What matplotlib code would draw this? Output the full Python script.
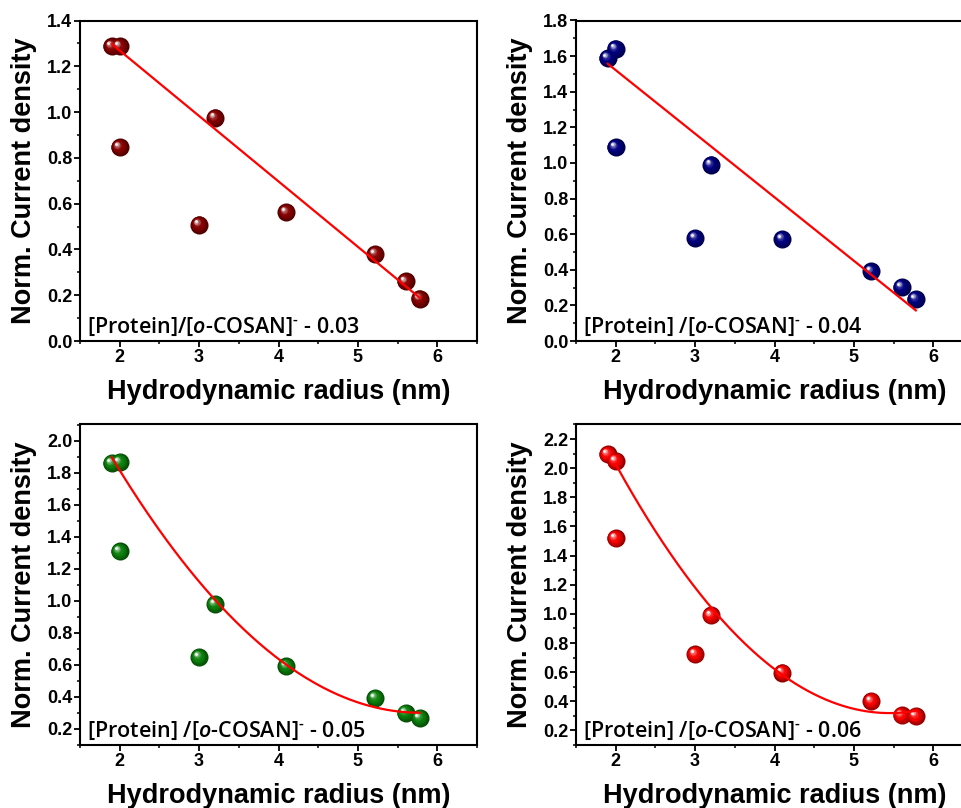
import numpy as np
import matplotlib
matplotlib.use('Agg')
import matplotlib.pyplot as plt
import matplotlib.colors as mcolors
from matplotlib.transforms import offset_copy
from matplotlib.ticker import MultipleLocator, FormatStrFormatter

plt.rcParams['font.family'] = ['Liberation Sans', 'DejaVu Sans']
plt.rcParams['mathtext.fontset'] = 'custom'
plt.rcParams['mathtext.rm'] = 'Open Sans:semibold'
plt.rcParams['mathtext.it'] = 'Open Sans:italic:semibold'

# hydrodynamic radius (nm), same for all panels
radius = [1.9, 2.0, 2.0, 3.0, 3.2, 4.1, 5.22, 5.6, 5.78]

current_003 = [1.287, 1.287, 0.847, 0.508, 0.975, 0.563, 0.380, 0.260, 0.185]
current_004 = [1.589, 1.641, 1.087, 0.578, 0.990, 0.573, 0.391, 0.303, 0.236]
current_005 = [1.859, 1.865, 1.308, 0.649, 0.979, 0.591, 0.393, 0.300, 0.269]
current_006 = [2.095, 2.049, 1.518, 0.722, 0.989, 0.596, 0.401, 0.303, 0.299]

# points used in the fit (outliers left out)
fit_003 = [1, 1, 0, 0, 1, 1, 1, 1, 1]
fit_004 = [1, 1, 0, 0, 1, 1, 1, 1, 1]
fit_005 = [1, 1, 0, 0, 1, 1, 1, 1, 1]
fit_006 = [0, 1, 0, 0, 1, 1, 1, 1, 1]

labels = [r'[Protein]/[$\mathit{o}$-COSAN]$^{\text{-}}$ - 0.03',
          r'[Protein] /[$\mathit{o}$-COSAN]$^{\text{-}}$ - 0.04',
          r'[Protein] /[$\mathit{o}$-COSAN]$^{\text{-}}$ - 0.05',
          r'[Protein] /[$\mathit{o}$-COSAN]$^{\text{-}}$ - 0.06']

fig = plt.figure(figsize=(9.61, 8.08), dpi=100)

W = 397 / 961
H = 320.5 / 808
axes_pos = [[80 / 961, 1 - 341 / 808, W, H],
            [576 / 961, 1 - 341 / 808, W, H],
            [80 / 961, 1 - 745 / 808, W, H],
            [576 / 961, 1 - 745 / 808, W, H]]

panels = [
    (current_003, fit_003, 1, '#860000', (0, 1.4)),
    (current_004, fit_004, 1, '#000080', (0, 1.8)),
    (current_005, fit_005, 2, '#0b800b', (0.1, 2.1)),
    (current_006, fit_006, 2, '#f50000', (0.1, 2.3)),
]


def spheres(ax, x, y, color):
    base = np.array(mcolors.to_rgb(color))
    dark = base * 0.6
    n = 10
    for i in range(n):
        f = i / (n - 1)
        ms = 13 * (1 - 0.85 * f)
        if f < 0.45:
            col = dark + (base - dark) * (f / 0.45)
        else:
            col = base + (np.ones(3) - base) * ((f - 0.45) / 0.55) ** 2.2 * 0.97
        tr = offset_copy(ax.transData, fig=fig, x=-2.4 * f, y=2.4 * f, units='points')
        ax.plot(x, y, 'o', ms=ms, color=col, mec='none', transform=tr,
                zorder=3 + i * 0.01, clip_on=False)


for k, (cur, mask, deg, color, ylim) in enumerate(panels):
    ax = fig.add_axes(axes_pos[k])
    x = np.array(radius)
    y = np.array(cur)
    m = np.array(mask, dtype=bool)

    spheres(ax, x, y, color)

    coef = np.polyfit(x[m], y[m], deg)
    xf = np.linspace(x[m].min(), x[m].max(), 200)
    ax.plot(xf, np.polyval(coef, xf), color='#ff0000', lw=1.6, zorder=5)

    ax.set_xlim(1.5, 6.5)
    ax.set_ylim(*ylim)
    ax.xaxis.set_major_locator(MultipleLocator(1))
    ax.xaxis.set_minor_locator(MultipleLocator(0.5))
    ax.yaxis.set_minor_locator(MultipleLocator(0.1))
    ax.set_yticks(np.arange(0.2 if ylim[0] > 0 else 0.0, ylim[1] + 0.01, 0.2))
    ax.yaxis.set_major_formatter(FormatStrFormatter('%.1f'))

    for s in ax.spines.values():
        s.set_linewidth(1.5)
    ax.tick_params(which='major', direction='out', length=4, width=1.3,
                   labelsize=13, pad=1.5)
    ax.tick_params(which='minor', direction='out', length=2.5, width=1.1)
    for lab in ax.get_xticklabels() + ax.get_yticklabels():
        lab.set_fontweight('bold')

    ax.set_xlabel('Hydrodynamic radius (nm)', fontsize=19.5, fontweight='bold')
    ax.set_ylabel('Norm. Current density', fontsize=19.5, fontweight='bold')
    ax.xaxis.set_label_coords(0.5, -0.118)
    ax.yaxis.set_label_coords(-0.108, 0.5)

    ax.text(0.018, 0.008, labels[k], transform=ax.transAxes, fontsize=15.5,
            family='Open Sans', fontweight='semibold', va='bottom', ha='left')

fig.savefig('out.png', dpi=100)
